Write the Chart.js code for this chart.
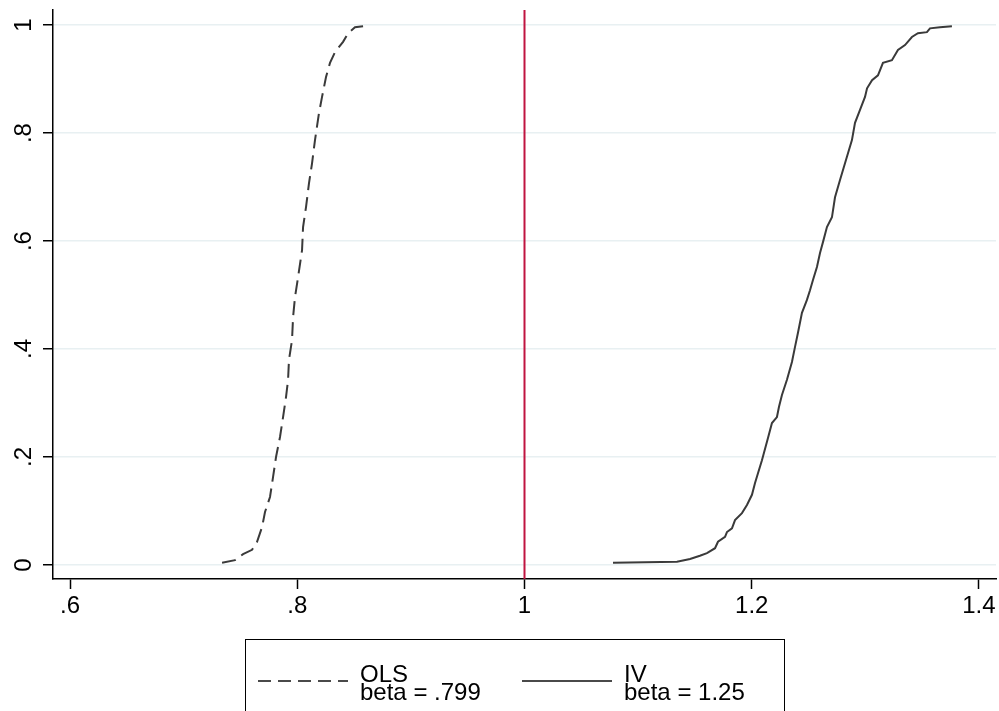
<!DOCTYPE html>
<html>
<head>
<meta charset="utf-8">
<script src="https://cdn.jsdelivr.net/npm/chart.js@4.4.1/dist/chart.umd.min.js"></script>
<style>
  html, body { margin: 0; padding: 0; background: #fff; }
  #wrap { width: 999px; height: 711px; }
</style>
</head>
<body>
<div id="wrap"><canvas id="cdfChart" width="999" height="711"></canvas></div>
<script>
// values
const olsX = [0.7338, 0.7452, 0.7523, 0.7602, 0.7646, 0.769, 0.7716, 0.776, 0.7787, 0.7813, 0.7848, 0.7875, 0.7901, 0.7919,
    0.7927, 0.7954, 0.7963, 0.798, 0.8007, 0.8042, 0.8051, 0.8077, 0.8103, 0.813, 0.8156, 0.8191, 0.8218, 0.8253, 0.8288,
    0.8332, 0.8403, 0.8447, 0.8508, 0.8579];
const olsY = [0.004, 0.009, 0.020, 0.028, 0.043, 0.070, 0.098, 0.126, 0.163, 0.200, 0.237, 0.274, 0.311, 0.343,
    0.380, 0.417, 0.459, 0.496, 0.533, 0.583, 0.626, 0.663, 0.707, 0.744, 0.787, 0.837, 0.867, 0.904, 0.930,
    0.950, 0.969, 0.985, 0.996, 0.998];

const ivX = [1.0779, 1.1342, 1.1457, 1.1544, 1.1606, 1.1677, 1.1703, 1.1765, 1.1782, 1.1826, 1.1853, 1.1914, 1.1958, 1.2002,
    1.2029, 1.2055, 1.209, 1.2143, 1.2178, 1.2222, 1.224, 1.2266, 1.231, 1.2354, 1.2381, 1.2407, 1.2442, 1.2486, 1.2513,
    1.2539, 1.2574, 1.2601, 1.2627, 1.2662, 1.2706, 1.2733, 1.2777, 1.2838, 1.2882, 1.2909, 1.2953, 1.2997, 1.3015,
    1.3059, 1.3111, 1.3155, 1.3234, 1.3287, 1.3349, 1.341, 1.3463, 1.3542, 1.3569, 1.3657, 1.3762];
const ivY = [0.004, 0.006, 0.011, 0.017, 0.022, 0.031, 0.043, 0.052, 0.061, 0.068, 0.083, 0.096, 0.111, 0.130,
    0.152, 0.170, 0.194, 0.235, 0.263, 0.274, 0.293, 0.315, 0.343, 0.376, 0.404, 0.430, 0.467, 0.491, 0.509,
    0.528, 0.552, 0.578, 0.598, 0.626, 0.644, 0.681, 0.713, 0.756, 0.787, 0.819, 0.843, 0.867, 0.883,
    0.898, 0.907, 0.930, 0.935, 0.954, 0.963, 0.978, 0.985, 0.987, 0.994, 0.996, 0.998];

const refLineX = 1;
const xTicks = [0.6, 0.8, 1, 1.2, 1.4];
const yTicks = [0, 0.2, 0.4, 0.6, 0.8, 1];
const xRange = [0.585, 1.415];
const yRange = [-0.026, 1.028];

const legendItems = [
    { name: 'OLS', note: 'beta = .799', dash: [13, 7] },
    { name: 'IV', note: 'beta = 1.25', dash: [] }
];

const FONT = 'Liberation Sans, Arial, sans-serif';
const lineCol = '#3a3a3a';
const refCol = '#c01441';

function toPoints(xs, ys) {
    return xs.map((x, i) => ({ x: x, y: ys[i] }));
}

function stataLabel(v) {
    let s = String(Math.round(v * 10) / 10);
    return s.replace(/^0\./, '.');
}

// legend box drawn under the x axis
const legendBox = {
    id: 'legendBox',
    afterDraw(chart) {
        const ctx = chart.ctx;
        ctx.save();
        ctx.strokeStyle = '#000';
        ctx.lineWidth = 1;
        ctx.strokeRect(245.5, 639.5, 539, 90);

        const starts = [258, 522];
        legendItems.forEach((item, i) => {
            const x0 = starts[i];
            ctx.strokeStyle = '#4a4a4a';
            ctx.lineWidth = 2;
            ctx.setLineDash(item.dash);
            ctx.beginPath();
            ctx.moveTo(x0, 681);
            ctx.lineTo(x0 + 90, 681);
            ctx.stroke();
            ctx.setLineDash([]);

            ctx.fillStyle = '#000';
            ctx.font = '24px ' + FONT;
            ctx.textAlign = 'left';
            ctx.textBaseline = 'alphabetic';
            ctx.fillText(item.name, x0 + 102, 682);
            ctx.fillText(item.note, x0 + 102, 700);
        });
        ctx.restore();
    }
};

const ctx = document.getElementById('cdfChart').getContext('2d');
const cdfChart = new Chart(ctx, {
    type: 'scatter',
    data: {
        datasets: [
            {
                label: 'ref',
                data: [{ x: refLineX, y: yRange[0] }, { x: refLineX, y: yRange[1] }],
                showLine: true,
                borderColor: refCol,
                borderWidth: 2,
                pointRadius: 0
            },
            {
                label: 'OLS',
                data: toPoints(olsX, olsY),
                showLine: true,
                borderColor: lineCol,
                borderWidth: 2,
                borderDash: [14, 7],
                pointRadius: 0,
                tension: 0
            },
            {
                label: 'IV',
                data: toPoints(ivX, ivY),
                showLine: true,
                borderColor: lineCol,
                borderWidth: 2,
                pointRadius: 0,
                tension: 0
            }
        ]
    },
    options: {
        responsive: false,
        animation: false,
        devicePixelRatio: 1,
        layout: { padding: { top: 10, right: 3, left: 0, bottom: 0 } },
        plugins: {
            legend: { display: false },
            tooltip: { enabled: false }
        },
        scales: {
            x: {
                type: 'linear',
                min: xRange[0],
                max: xRange[1],
                afterBuildTicks: s => { s.ticks = xTicks.map(v => ({ value: v })); },
                afterFit: s => { s.height = 132; s.paddingLeft = 0; s.paddingRight = 0; },
                ticks: {
                    callback: v => stataLabel(v),
                    color: '#000',
                    font: { family: FONT, size: 24 },
                    padding: 3,
                    maxRotation: 0
                },
                grid: {
                    drawOnChartArea: false,
                    drawTicks: true,
                    tickLength: 10,
                    tickColor: '#000',
                    tickWidth: 1.5
                },
                border: { color: '#000', width: 1.5 }
            },
            y: {
                type: 'linear',
                min: yRange[0],
                max: yRange[1],
                afterBuildTicks: s => { s.ticks = yTicks.map(v => ({ value: v })); },
                afterFit: s => { s.width = 53; s.paddingTop = 0; s.paddingBottom = 0; },
                ticks: {
                    callback: v => stataLabel(v),
                    color: '#000',
                    font: { family: FONT, size: 24 },
                    padding: 9,
                    minRotation: 90,
                    maxRotation: 90,
                    crossAlign: 'center'
                },
                grid: {
                    color: '#e8f0f2',
                    lineWidth: 1.5,
                    drawTicks: true,
                    tickLength: 10,
                    tickColor: '#000',
                    tickWidth: 1.5
                },
                border: { color: '#000', width: 1.5 }
            }
        }
    },
    plugins: [legendBox]
});
</script>
</body>
</html>
